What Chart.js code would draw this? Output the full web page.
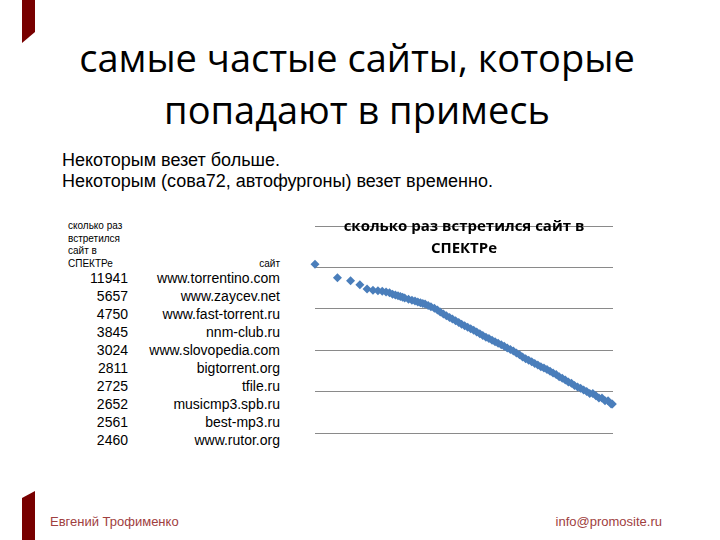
<!DOCTYPE html>
<html>
<head>
<meta charset="utf-8">
<script src="https://cdn.jsdelivr.net/npm/chart.js@4.4.0/dist/chart.umd.min.js"></script>
<style>
  body { margin:0; width:720px; height:540px; background:#fff; position:relative; overflow:hidden; font-family:"Liberation Sans", Arial, sans-serif; }
  .abs { position:absolute; white-space:nowrap; }
  .bar { position:absolute; left:22px; width:13px; background:#780000; }
  #title { left:-3px; width:720px; top:31px; text-align:center; font-family:"Open Sans", sans-serif; font-size:38px; line-height:52px; color:#000; }
  #intro { left:62px; top:150px; font-size:18px; line-height:21px; color:#000; }
  #thead { left:68px; top:220px; font-size:10px; line-height:12.6px; }
  #thead2 { left:200px; width:80px; top:258px; font-size:10px; line-height:12.4px; text-align:right; }
  .num { left:60px; width:68px; text-align:right; font-size:14px; line-height:18px; }
  .site { left:130px; width:150px; text-align:right; font-size:14px; line-height:18px; }
  .foot { top:514px; font-size:13px; line-height:15px; color:#a04040; }
  #wrap { position:absolute; left:300px; top:200px; width:330px; height:250px; }
</style>
</head>
<body>
<div class="bar" style="top:0;height:43px;clip-path:polygon(0 0,13px 0,13px 32px,0 43px);"></div>
<div class="bar" style="top:491px;height:49px;clip-path:polygon(0 7px,13px 0,13px 49px,0 49px);"></div>

<div id="title" class="abs">самые частые сайты, которые<br>попадают в примесь</div>
<div id="intro" class="abs">Некоторым везет больше.<br>Некоторым (сова72, автофургоны) везет временно.</div>
<div id="thead" class="abs">сколько раз<br>встретился<br>сайт в<br>СПЕКТРе</div>
<div id="thead2" class="abs">сайт</div>
<div id="rows"></div>

<div id="wrap"><canvas id="zipf" width="330" height="250"></canvas></div>

<div class="abs foot" style="left:50px;">Евгений Трофименко</div>
<div class="abs foot" style="right:58px;">info@promosite.ru</div>

<script>
// top 10 from the table
const siteNames = ["www.torrentino.com","www.zaycev.net","www.fast-torrent.ru","nnm-club.ru","www.slovopedia.com",
  "bigtorrent.org","tfile.ru","musicmp3.spb.ru","best-mp3.ru","www.rutor.org"];
const siteCounts = [11941,5657,4750,3845,3024,2811,2725,2652,2561,2460];

// rest of the curve (rank -> count)
const tailRanks = [11,12,13,14,15,16,18,20,22,24,26,28,30,33,36,40,44,48,53,58,64,70,77,85,93,102,112,123,135,148,
  163,179,197,216,238,261,287,316,347,381,419,460,506,556,611,672,738,811,891,980,1077,1183,1300,1429,1570,1726,
  1897,2085,2291,2518,2767,3041,3342,3673,4036,4436,4875,5357,5888,6470,7111,7815,8588,9438,9800];
const tailCounts = [2266,2171,2069,1982,1903,1831,1718,1623,1542,1471,1409,1354,1305,1207,1124,1032,935,845,755,686,
  620,565,514,467,427,390,357,329,302,277,251,228,207,191,175,161,148,136,125,114,104,96,86,78,69,62,57,53,48,44,
  40,37,34,31,28,26,23,21,19,17,16,14,13,12,11,10,9,9,8,7,7,6,6,5,5];

const yTicks = [1,10,100,1000,10000,100000];
const chartTitle = ["сколько раз встретился сайт в","СПЕКТРе"];

(function(){
    fillTable();
    drawChart();
})();

function fillTable(){
    let html = ``;
    for(let i=0;i<siteNames.length;i++){
        let top = 268.7 + i*18;
        html += `<div class="abs num" style="top:${top}px">${siteCounts[i]}</div>`;
        html += `<div class="abs site" style="top:${top}px">${siteNames[i]}</div>`;
    }
    document.getElementById("rows").innerHTML = html;
}

function drawChart(){
    let points = [];
    for(let i=0;i<siteCounts.length;i++){
        points.push({x:i+1, y:siteCounts[i]});
    }
    for(let i=0;i<tailRanks.length;i++){
        points.push({x:tailRanks[i], y:tailCounts[i]});
    }

    const overTitle = {
        id:'overTitle',
        afterDraw(chart){
            let ctx = chart.ctx;
            let cx = (chart.chartArea.left + chart.chartArea.right)/2;
            ctx.save();
            ctx.font = 'bold 15px "Open Sans"';
            ctx.fillStyle = '#000';
            ctx.textAlign = 'center';
            ctx.textBaseline = 'middle';
            for(let i=0;i<chartTitle.length;i++){
                ctx.fillText(chartTitle[i], cx, 27 + i*21.5);
            }
            ctx.restore();
        }
    };

    new Chart(document.getElementById("zipf"), {
        type:'scatter',
        data:{
            datasets:[{
                label:'сколько раз встретился сайт в СПЕКТРе',
                data:points,
                pointStyle:'rectRot',
                pointRadius:4.5,
                borderWidth:0,
                backgroundColor:'#4a7ebb',
                borderColor:'#4a7ebb',
                clip:false
            }]
        },
        options:{
            responsive:false,
            animation:false,
            devicePixelRatio:1,
            layout:{ padding:{left:15, right:17, top:26, bottom:17} },
            plugins:{ legend:{display:false}, tooltip:{enabled:false}, title:{display:false} },
            scales:{
                x:{ type:'logarithmic', min:1, max:10000, display:false },
                y:{
                    type:'logarithmic', min:1, max:100500,
                    afterBuildTicks:(scale)=>{ scale.ticks = yTicks.map(v=>({value:v})); },
                    ticks:{display:false},
                    border:{display:false},
                    grid:{color:'#8a8a8a', drawTicks:false}
                }
            }
        },
        plugins:[overTitle]
    });
}
</script>
</body>
</html>
